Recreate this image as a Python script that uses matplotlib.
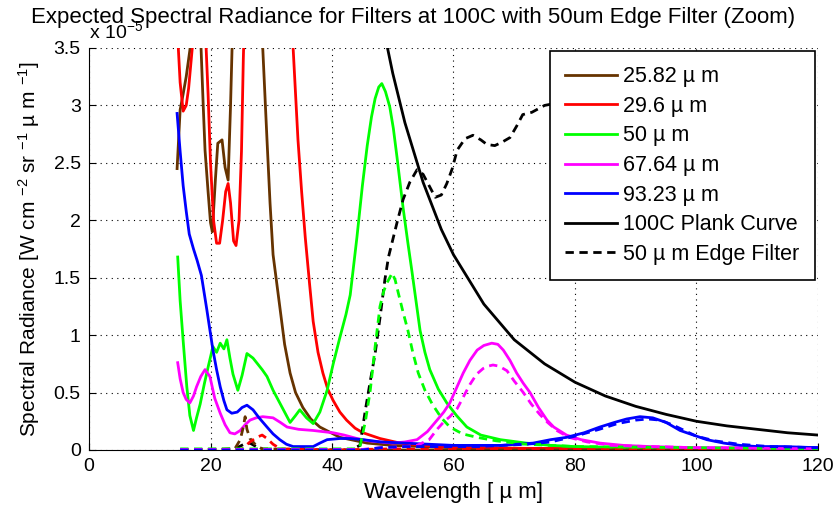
"""
Radiancia espectral esperada para filtros a 100C con filtro de borde de 50 um (zoom).
"""

import matplotlib
matplotlib.use('Agg')
import matplotlib.pyplot as plt

# ==========================================
# 1. DATOS (unidades de 1e-5 W cm^-2 sr^-1 um^-1)
# ==========================================
labels = ['25.82 µ m', '29.6 µ m', '50 µ m', '67.64 µ m', '93.23 µ m']
colors = ['#663300', '#ff0000', '#00ff00', '#ff00ff', '#0000ff']

# Filtro 25.82 um
wl_2582 = [14.5, 15.0, 15.5, 16.0, 16.6, 17.2, 17.8, 18.3, 18.8, 19.1, 19.6, 20.0, 20.3, 20.8,
           21.2, 21.9, 22.4, 22.9, 23.3, 23.6, 24.5, 26.0, 27.5, 28.3, 28.6, 29.3, 29.8, 30.3,
           31.4, 32.2, 33.1, 34.0, 35.2, 36.5, 38.0, 41.3, 45.8, 50.0, 60.0, 80.0, 120.0]
rad_2582 = [2.45, 2.96, 3.10, 3.25, 3.48, 3.80, 3.90, 3.70, 3.00, 2.61, 2.25, 1.98, 1.90, 2.35,
            2.67, 2.70, 2.46, 2.35, 3.00, 3.60, 4.50, 5.00, 4.50, 3.70, 3.50, 2.70, 2.15, 1.70,
            1.25, 0.92, 0.67, 0.50, 0.37, 0.27, 0.20, 0.11, 0.06, 0.04, 0.02, 0.01, 0.005]

# Filtro 29.6 um
wl_296 = [14.6, 15.0, 15.5, 16.0, 16.4, 17.0, 17.5, 18.5, 19.2, 19.6, 20.0, 20.5, 21.0, 21.5,
          22.0, 22.5, 22.9, 23.3, 23.8, 24.2, 24.7, 25.1, 25.4, 25.8, 27.0, 30.0, 33.0, 33.6,
          34.4, 35.0, 35.6, 36.3, 36.9, 37.7, 38.5, 39.3, 40.2, 41.3, 42.4, 43.8, 45.1, 47.9,
          51.2, 55.0, 60.0, 70.0, 90.0, 120.0]
rad_296 = [3.60, 3.20, 2.95, 3.00, 3.15, 3.50, 3.90, 4.00, 3.60, 3.10, 2.50, 2.00, 1.80, 1.80,
           2.00, 2.25, 2.32, 2.15, 1.82, 1.78, 2.00, 2.60, 3.40, 4.20, 5.00, 5.00, 4.00, 3.50,
           2.70, 2.25, 1.85, 1.45, 1.12, 0.85, 0.67, 0.53, 0.43, 0.33, 0.26, 0.19, 0.15, 0.10,
           0.06, 0.04, 0.025, 0.015, 0.01, 0.005]

# Filtro 50 um
wl_50 = [14.6, 15.0, 15.5, 16.1, 16.6, 17.2, 17.7, 18.3, 19.0, 19.6, 20.4, 21.0, 21.6, 22.2,
         22.7, 23.2, 23.7, 24.5, 25.2, 26.0, 27.0, 27.6, 28.5, 29.3, 30.3, 31.4, 32.3, 33.1,
         34.0, 34.7, 35.8, 36.9, 38.0, 39.2, 40.2, 41.3, 42.3, 43.0, 44.1, 45.0, 45.8, 46.5,
         47.1, 47.7, 48.2, 48.8, 49.5, 50.1, 50.7, 51.7, 52.5, 53.2, 54.5, 55.3, 56.1, 57.5,
         58.9, 60.5, 62.2, 64.5, 67.7, 72.0, 76.0, 80.0, 90.0, 100.0, 110.0, 120.0]
rad_50 = [1.68, 1.30, 0.95, 0.55, 0.30, 0.17, 0.28, 0.40, 0.58, 0.72, 0.90, 0.85, 0.93, 0.88,
          0.96, 0.80, 0.66, 0.52, 0.65, 0.84, 0.80, 0.76, 0.70, 0.64, 0.52, 0.41, 0.32, 0.24,
          0.30, 0.35, 0.28, 0.23, 0.33, 0.52, 0.75, 0.98, 1.18, 1.35, 1.85, 2.30, 2.65, 2.90,
          3.06, 3.16, 3.19, 3.12, 2.99, 2.80, 2.55, 2.11, 1.80, 1.54, 1.04, 0.85, 0.70, 0.53,
          0.41, 0.30, 0.20, 0.13, 0.09, 0.06, 0.04, 0.03, 0.02, 0.015, 0.01, 0.01]

# Filtro 67.64 um
wl_6764 = [14.6, 15.0, 15.5, 16.0, 16.6, 17.2, 17.7, 18.4, 19.1, 19.9, 20.7, 21.6, 22.4, 23.2,
           24.0, 24.9, 25.7, 26.5, 27.5, 28.6, 30.3, 31.5, 32.6, 34.5, 36.9, 38.5, 40.2, 42.0,
           44.1, 46.0, 48.0, 50.0, 52.0, 54.0, 55.7, 57.3, 58.4, 59.4, 60.5, 61.6, 62.7, 63.9,
           65.0, 66.3, 67.3, 68.2, 69.3, 70.4, 71.5, 72.6, 74.0, 75.4, 76.5, 78.6, 81.0, 84.1,
           88.0, 92.3, 100.0, 110.0, 120.0]
rad_6764 = [0.76, 0.62, 0.50, 0.44, 0.41, 0.47, 0.55, 0.64, 0.70, 0.64, 0.45, 0.32, 0.22, 0.15,
            0.14, 0.17, 0.22, 0.26, 0.28, 0.29, 0.28, 0.24, 0.20, 0.18, 0.17, 0.16, 0.15, 0.13,
            0.10, 0.08, 0.07, 0.06, 0.07, 0.09, 0.16, 0.26, 0.33, 0.41, 0.54, 0.67, 0.78, 0.87,
            0.91, 0.93, 0.92, 0.87, 0.78, 0.67, 0.58, 0.50, 0.37, 0.26, 0.20, 0.13, 0.09, 0.06,
            0.04, 0.03, 0.02, 0.02, 0.02]

# Filtro 93.23 um
wl_9323 = [14.5, 15.0, 15.5, 16.0, 16.5, 17.2, 17.8, 18.5, 19.4, 20.4, 21.0, 21.6, 22.2, 22.7,
           23.5, 24.4, 25.2, 26.0, 27.0, 28.0, 29.3, 30.3, 31.4, 32.5, 33.6, 35.0, 36.9, 38.0,
           39.2, 41.3, 43.0, 45.1, 48.0, 52.0, 56.0, 60.0, 64.0, 67.7, 70.5, 73.1, 76.0, 78.6,
           81.5, 84.1, 86.5, 88.5, 90.7, 92.8, 95.0, 97.3, 99.5, 101.7, 104.5, 107.2, 110.0,
           114.2, 120.0]
rad_9323 = [2.93, 2.60, 2.30, 2.08, 1.88, 1.75, 1.65, 1.52, 1.22, 0.87, 0.70, 0.55, 0.43, 0.35,
            0.32, 0.33, 0.37, 0.39, 0.35, 0.28, 0.20, 0.14, 0.09, 0.05, 0.03, 0.03, 0.03, 0.06,
            0.09, 0.10, 0.10, 0.09, 0.07, 0.06, 0.05, 0.04, 0.04, 0.04, 0.05, 0.06, 0.09, 0.11,
            0.15, 0.20, 0.24, 0.27, 0.29, 0.28, 0.24, 0.17, 0.13, 0.09, 0.06, 0.04, 0.03,
            0.03, 0.02]

# Curva de Planck a 100C
wl_planck = [47.0, 48.0, 50.0, 52.0, 55.0, 58.0, 60.0, 65.0, 70.0, 75.0, 80.0, 85.0, 90.0,
             95.0, 100.0, 105.0, 110.0, 115.0, 120.0]
rad_planck = [4.10, 3.79, 3.28, 2.85, 2.33, 1.92, 1.70, 1.27, 0.96, 0.75, 0.59, 0.47, 0.38,
              0.31, 0.25, 0.21, 0.18, 0.15, 0.13]

# Filtro de borde de 50 um (escalado)
wl_edge = [15.0, 20.0, 24.0, 25.5, 26.5, 27.5, 29.0, 35.0, 40.0, 43.0, 44.6, 45.5, 46.3, 47.1,
           47.9, 48.7, 49.3, 50.0, 50.8, 51.7, 52.8, 54.0, 55.0, 55.8, 57.0, 58.0, 58.9, 59.8,
           60.6, 61.9, 63.2, 64.5, 65.5, 66.8, 68.0, 69.3, 70.4, 71.4, 72.9, 75.0, 80.0, 90.0,
           100.0, 110.0, 120.0]
rad_edge = [0.0, 0.0, 0.01, 0.05, 0.06, 0.03, 0.0, 0.0, 0.0, 0.0, 0.04, 0.35, 0.60, 0.84,
            1.15, 1.48, 1.68, 1.83, 2.00, 2.18, 2.33, 2.44, 2.40, 2.32, 2.20, 2.22, 2.32, 2.45,
            2.61, 2.71, 2.74, 2.70, 2.66, 2.65, 2.68, 2.72, 2.82, 2.92, 2.94, 3.00, 3.05, 3.10,
            3.15, 3.15, 3.20]

# Filtros multiplicados por el filtro de borde (lineas discontinuas)
wl_2582_e = [15.0, 24.0, 24.9, 25.4, 25.7, 26.0, 26.5, 27.5, 28.5, 40.0, 120.0]
rad_2582_e = [0.0, 0.01, 0.09, 0.20, 0.29, 0.18, 0.10, 0.04, 0.01, 0.0, 0.0]

wl_296_e = [15.0, 25.0, 26.5, 27.6, 28.5, 29.3, 30.3, 31.5, 40.0, 50.0, 60.0, 120.0]
rad_296_e = [0.0, 0.0, 0.07, 0.11, 0.13, 0.10, 0.05, 0.01, 0.0, 0.01, 0.005, 0.0]

wl_50_e = [15.0, 44.0, 44.6, 45.5, 46.3, 47.1, 47.9, 48.5, 49.0, 49.9, 50.4, 50.9, 51.7, 52.5,
           53.3, 54.2, 55.3, 56.5, 58.0, 59.4, 61.5, 63.9, 67.0, 72.0, 80.0, 120.0]
rad_50_e = [0.01, 0.01, 0.03, 0.25, 0.52, 0.90, 1.25, 1.38, 1.45, 1.54, 1.48, 1.37, 1.20, 1.04,
            0.85, 0.67, 0.52, 0.40, 0.28, 0.20, 0.14, 0.11, 0.08, 0.05, 0.03, 0.01]

wl_6764_e = [15.0, 45.0, 48.0, 52.0, 54.0, 56.0, 57.3, 58.5, 59.4, 60.6, 61.5, 62.7, 63.8, 64.9,
             65.7, 66.5, 67.5, 68.8, 70.0, 71.5, 72.8, 74.2, 75.5, 77.0, 79.0, 82.0, 86.0, 92.0,
             100.0, 120.0]
rad_6764_e = [0.005, 0.005, 0.02, 0.03, 0.04, 0.09, 0.18, 0.25, 0.29, 0.36, 0.45, 0.57, 0.66,
              0.71, 0.73, 0.74, 0.73, 0.69, 0.60, 0.50, 0.40, 0.31, 0.24, 0.17, 0.11, 0.07, 0.04,
              0.03, 0.02, 0.01]

wl_9323_e = [15.0, 44.0, 45.0, 48.0, 52.0, 56.0, 60.0, 64.0, 68.0, 72.0, 76.0, 80.0, 84.0, 87.0,
             90.0, 92.0, 94.0, 96.0, 98.0, 100.0, 103.0, 107.0, 112.0, 120.0]
rad_9323_e = [0.0, 0.0, 0.0, 0.02, 0.03, 0.03, 0.03, 0.03, 0.04, 0.05, 0.07, 0.12, 0.18, 0.23,
              0.26, 0.27, 0.26, 0.22, 0.17, 0.12, 0.08, 0.05, 0.03, 0.02]

# ==========================================
# 2. GRAFICA
# ==========================================
plt.rcParams['font.family'] = ['Liberation Sans', 'DejaVu Sans']
plt.rcParams['mathtext.fontset'] = 'custom'
plt.rcParams['mathtext.rm'] = 'Liberation Sans'
plt.rcParams['mathtext.it'] = 'Liberation Sans'

fig = plt.figure(figsize=(8.35, 5.12), dpi=100)
ax = fig.add_axes([0.1066, 0.1211, 0.873, 0.7852])

lw = 2.0
solids = [(wl_2582, rad_2582), (wl_296, rad_296), (wl_50, rad_50),
          (wl_6764, rad_6764), (wl_9323, rad_9323)]
dashed = [(wl_2582_e, rad_2582_e), (wl_296_e, rad_296_e), (wl_50_e, rad_50_e),
          (wl_6764_e, rad_6764_e), (wl_9323_e, rad_9323_e)]

for (wl, rad), c, lab in zip(solids, colors, labels):
    ax.plot(wl, rad, color=c, lw=lw, label=lab)

ax.plot(wl_planck, rad_planck, color='black', lw=lw, label='100C Plank Curve')
ax.plot(wl_edge, rad_edge, color='black', lw=lw, ls='--', dashes=(3, 2),
        label='50 µ m Edge Filter')

for (wl, rad), c in zip(dashed, colors):
    ax.plot(wl, rad, color=c, lw=lw, ls='--', dashes=(3, 2))

ax.set_xlim(0, 120)
ax.set_ylim(0, 3.5)
ax.set_xticks([0, 20, 40, 60, 80, 100, 120])
ax.set_yticks([0, 0.5, 1, 1.5, 2, 2.5, 3, 3.5])
ax.set_yticklabels(['0', '0.5', '1', '1.5', '2', '2.5', '3', '3.5'])
ax.grid(True, color='black', linestyle=(0, (1, 4)), linewidth=0.8)
ax.spines['top'].set_visible(False)
ax.spines['right'].set_visible(False)
ax.tick_params(direction='in', length=5, labelsize=14, pad=6)

ax.set_xlabel('Wavelength [ µ m]', fontsize=16, labelpad=5)
ax.set_ylabel('Spectral Radiance [W cm $^{-2}$ sr $^{-1}$ µ m $^{-1}$]', fontsize=15,
              labelpad=8)
fig.text(0.107, 1 - 42 / 512, 'x 10$^{-5}$', fontsize=14, ha='left', va='bottom')
fig.text(0.495, 1 - 18 / 512,
         'Expected Spectral Radiance for Filters at 100C with 50um Edge Filter (Zoom)',
         fontsize=16, ha='center', va='center')

leg = ax.legend(loc='upper right', fontsize=15.5, fancybox=False, framealpha=1,
                edgecolor='black', handlelength=2.4, labelspacing=0.4, borderpad=0.7,
                borderaxespad=0.15, handletextpad=0.3)
leg.get_frame().set_linewidth(1.2)

fig.savefig('out.png', dpi=100)
